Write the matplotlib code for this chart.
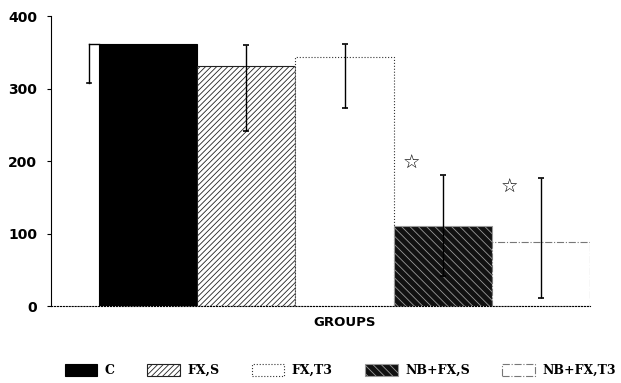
import matplotlib.pyplot as plt
from matplotlib.patches import Patch

# data
groups = ["C", "FX,S", "FX,T3", "NB+FX,S", "NB+FX,T3"]
means = [361, 331, 344, 111, 89]
err_low = [54, 90, 71, 70, 78]
err_high = [0, 29, 18, 70, 88]
star_groups = [3, 4]
star_values = [197, 164]
y_ticks = [0, 100, 200, 300, 400]

fig = plt.figure(figsize=(6.21, 3.83), dpi=100)
ax = fig.add_axes([0.0821, 0.201, 0.868, 0.757])

x = list(range(len(groups)))
faces = ["black", "white", "white", "#111111", "white"]
edges = ["black", "#222222", "#333333", "#999999", "#777777"]
hatches = [None, "//////", None, "\\\\\\\\", None]
styles = ["-", "-", ":", "-", "-."]

plt.rcParams["hatch.linewidth"] = 0.6
for i in x:
    ax.bar(i, means[i], width=1.0, color=faces[i], edgecolor=edges[i],
           hatch=hatches[i], linewidth=0.8, linestyle=styles[i], zorder=2)

# error bars; the C one sits just left of its bar, lower arm only
ax.errorbar(x[1:], means[1:], yerr=[err_low[1:], err_high[1:]], fmt="none",
            ecolor="black", elinewidth=1.0, capsize=2, capthick=1.2, zorder=3)
cx = -0.6
ax.plot([cx, cx], [means[0], means[0] - err_low[0]], color="black", lw=1.0)
ax.plot([cx - 0.02, cx + 0.02], [means[0] - err_low[0]] * 2, color="black", lw=1.2)
ax.plot([cx, -0.5], [means[0], means[0]], color="black", lw=1.0, zorder=3)

# significance stars
for g, v in zip(star_groups, star_values):
    ax.text(g - 0.32, v, "\u2606", ha="center", va="center", fontsize=14,
            family="DejaVu Sans")

ax.set_xlim(-0.99, 4.5)
ax.set_ylim(0, 400)
ax.set_yticks(y_ticks)
ax.set_yticklabels([str(t) for t in y_ticks], fontsize=10, fontweight="heavy")
ax.set_xticks([])
ax.tick_params(axis="y", direction="out", length=3, width=0.8, pad=7)
ax.spines["top"].set_visible(False)
ax.spines["right"].set_visible(False)
ax.spines["left"].set_linewidth(0.8)
ax.spines["bottom"].set_linestyle(":")
ax.spines["bottom"].set_linewidth(0.8)

ax.text(2, -23, "GROUPS", ha="center", va="center", fontsize=9.5,
        fontweight="bold")

handles = [Patch(facecolor=faces[i], edgecolor=edges[i], hatch=hatches[i],
                 linestyle=styles[i], linewidth=0.8) for i in x]
fig.legend(handles, groups, loc="center", bbox_to_anchor=(0.548, 0.033),
           ncol=5, frameon=False, handlelength=2.6, handleheight=1.1,
           columnspacing=2.6, handletextpad=0.6,
           prop={"family": "DejaVu Serif", "weight": "bold", "size": 9})

fig.savefig("out.png", dpi=100)
